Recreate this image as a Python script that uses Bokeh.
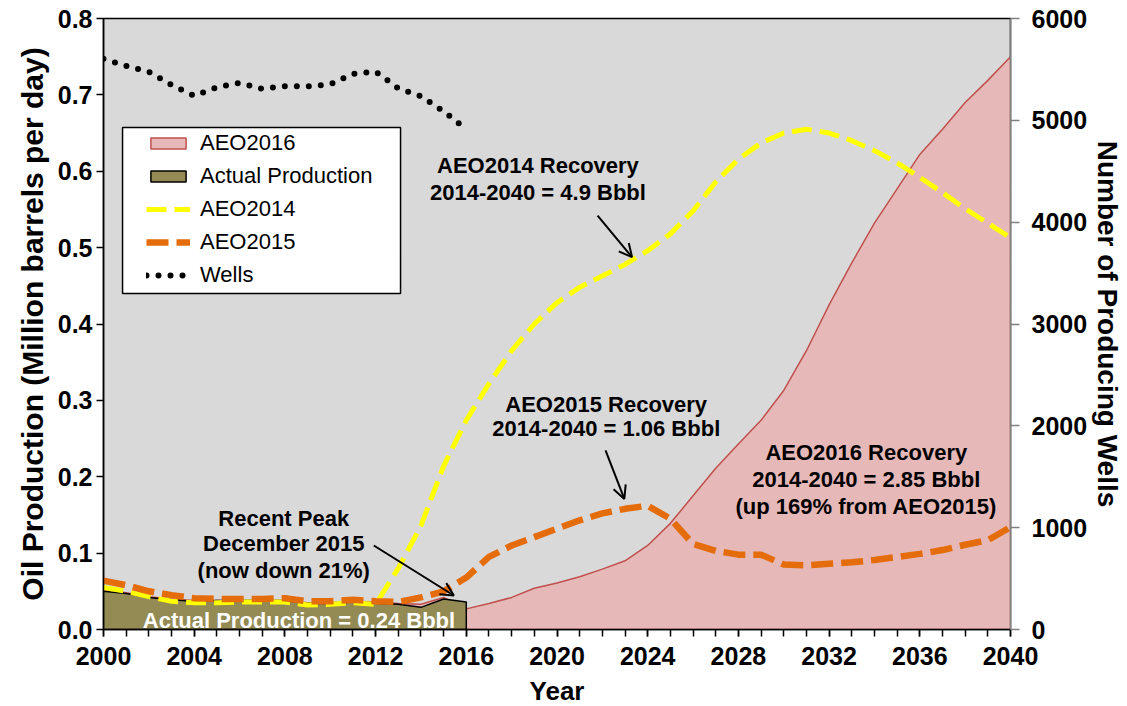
import numpy as np
from bokeh.plotting import figure
from bokeh.models import (Range1d, LinearAxis, FixedTicker, NumeralTickFormatter, Legend,
                          LegendItem, Label, Arrow, OpenHead, BoxAnnotation)
from bokeh.embed import file_html
from bokeh.resources import INLINE

# ---------------- data ----------------
years = list(range(2000, 2041))
actual_years = list(range(2000, 2017))
actual_production = [0.050, 0.047, 0.042, 0.039, 0.037, 0.038, 0.038, 0.038, 0.038,
                     0.034, 0.034, 0.036, 0.0345, 0.033, 0.029, 0.040, 0.036]
aeo2016 = [0.052, 0.048, 0.043, 0.040, 0.038, 0.038, 0.038, 0.038, 0.038, 0.035, 0.035,
           0.037, 0.036, 0.034, 0.033, 0.042, 0.027, 0.034, 0.042, 0.054, 0.061, 0.069,
           0.079, 0.090, 0.110, 0.139, 0.175, 0.211, 0.243, 0.274, 0.313, 0.365, 0.425,
           0.480, 0.532, 0.577, 0.622, 0.655, 0.690, 0.719, 0.750]
aeo2014 = [0.055, 0.050, 0.043, 0.037, 0.035, 0.035, 0.036, 0.036, 0.036, 0.032, 0.033,
           0.035, 0.033, 0.080, 0.136, 0.214, 0.274, 0.322, 0.365, 0.400, 0.428, 0.448,
           0.463, 0.478, 0.496, 0.518, 0.548, 0.586, 0.616, 0.637, 0.650, 0.655, 0.650,
           0.640, 0.627, 0.611, 0.592, 0.572, 0.551, 0.532, 0.513]
aeo2015 = [0.064, 0.058, 0.050, 0.045, 0.041, 0.040, 0.040, 0.040, 0.041, 0.037, 0.037,
           0.039, 0.037, 0.036, 0.042, 0.050, 0.068, 0.095, 0.110, 0.121, 0.132, 0.143,
           0.152, 0.158, 0.162, 0.145, 0.112, 0.103, 0.098, 0.098, 0.085, 0.084, 0.086,
           0.088, 0.091, 0.095, 0.099, 0.104, 0.111, 0.117, 0.134]
wells_years = list(range(2000, 2017))
wells = [5604, 5535, 5477, 5349, 5241, 5324, 5368, 5310, 5334, 5334, 5354, 5457, 5479,
         5314, 5236, 5088, 4912]

x_tick_labels = [2000, 2004, 2008, 2012, 2016, 2020, 2024, 2028, 2032, 2036, 2040]
y_ticks = [0.0, 0.1, 0.2, 0.3, 0.4, 0.5, 0.6, 0.7, 0.8]
wells_ticks = [0, 1000, 2000, 3000, 4000, 5000, 6000]

FONT = "Liberation Sans"

# ---------------- figure ----------------
p = figure(frame_width=907, frame_height=611,
           x_range=Range1d(2000, 2040), y_range=Range1d(0, 0.8),
           output_backend="svg", toolbar_location=None,
           background_fill_color="#D9D9D9", border_fill_color="white",
           min_border_left=103, min_border_top=18, min_border_right=5, min_border_bottom=40,
           outline_line_color="black", outline_line_width=1.5)
p.xgrid.visible = False
p.ygrid.visible = False
p.extra_y_ranges = {"wells": Range1d(0, 6000)}

n = len(years)
r16 = p.patch(np.concatenate([years, years[::-1]]),
              np.concatenate([aeo2016, np.zeros(n)]),
              fill_color="#E6B9B8", line_color="#C0504D", line_width=1.5)
na = len(actual_years)
ra = p.patch(np.concatenate([actual_years, actual_years[::-1]]),
             np.concatenate([actual_production, np.zeros(na)]),
             fill_color="#948A54", line_color="black", line_width=1.5)
r14 = p.line(years, aeo2014, line_color="#FFFF00", line_width=5, line_dash="20 8")
r15 = p.line(years, aeo2015, line_color="#E46C0A", line_width=6.5, line_dash="22 8")
rw = p.line(wells_years, wells, y_range_name="wells", line_color="black",
            line_width=6, line_dash="0 12", line_cap="round")

# ---------------- axes ----------------
def style_axis(ax, size="25px"):
    ax.major_label_text_font = FONT
    ax.major_label_text_font_size = size
    ax.major_label_text_font_style = "bold"
    ax.major_label_text_color = "black"
    ax.axis_label_text_font = FONT
    ax.axis_label_text_font_style = "bold"
    ax.axis_label_text_color = "black"
    ax.major_tick_in = 0
    ax.minor_tick_in = 0

xa = p.xaxis[0]
xa.ticker = FixedTicker(ticks=x_tick_labels, minor_ticks=years)
style_axis(xa)
xa.axis_label = "Year"
xa.axis_label_text_font_size = "26px"
xa.axis_label_standoff = 8
xa.major_label_standoff = 10
xa.major_tick_out = 7
xa.minor_tick_out = 7
xa.axis_line_color = "black"
xa.axis_line_width = 1.5
xa.major_tick_line_color = "black"
xa.minor_tick_line_color = "black"
xa.major_tick_line_width = 1.5
xa.minor_tick_line_width = 1.5

ya = p.yaxis[0]
ya.ticker = FixedTicker(ticks=y_ticks)
ya.formatter = NumeralTickFormatter(format="0.0")
style_axis(ya)
ya.axis_label = "Oil Production (Million barrels per day)"
ya.axis_label_text_font_size = "30px"
ya.axis_label_standoff = 6
ya.major_label_standoff = 4
ya.major_tick_out = 7
ya.minor_tick_line_color = None
ya.axis_line_color = "black"
ya.axis_line_width = 1.5
ya.major_tick_line_color = "black"
ya.major_tick_line_width = 1.5

wa = LinearAxis(y_range_name="wells", ticker=FixedTicker(ticks=wells_ticks),
                formatter=NumeralTickFormatter(format="0"),
                axis_label="Number of Producing Wells")
style_axis(wa)
wa.axis_label_text_font_size = "28px"
wa.axis_label_standoff = 2
wa.major_label_standoff = 12
wa.major_tick_out = 9
wa.minor_tick_line_color = None
wa.axis_line_color = "#7F7F7F"
wa.axis_line_width = 1.5
wa.major_tick_line_color = "#7F7F7F"
wa.major_tick_line_width = 1.5
p.add_layout(wa, "right")

# ---------------- legend ----------------
legend_box = BoxAnnotation(left=2000.84, right=2013.10, top=0.6573, bottom=0.4399,
                           fill_color="white", fill_alpha=1.0,
                           line_color="black", line_width=1.5, line_alpha=1.0)
p.add_layout(legend_box)

legend = Legend(items=[LegendItem(label="AEO2016", renderers=[r16]),
                       LegendItem(label="Actual Production", renderers=[ra]),
                       LegendItem(label="AEO2014", renderers=[r14]),
                       LegendItem(label="AEO2015", renderers=[r15]),
                       LegendItem(label="Wells", renderers=[rw])],
                location=(43, 341), orientation="vertical",
                background_fill_alpha=0, border_line_alpha=0, padding=0, margin=0,
                spacing=7, glyph_width=44, glyph_height=14, label_height=14,
                label_standoff=10, label_text_font=FONT, label_text_font_size="22px",
                label_text_color="black")
p.add_layout(legend, "center")

# ---------------- annotations ----------------
def add_text(x, y, text, color="black"):
    p.add_layout(Label(x=x, y=y, text=text, text_align="center",
                       text_baseline="middle", text_font=FONT,
                       text_font_size="22px", text_font_style="bold",
                       text_color=color))

add_text(2019.16, 0.6075, "AEO2014 Recovery")
add_text(2019.16, 0.5726, "2014-2040 = 4.9 Bbbl")
add_text(2022.17, 0.2949, "AEO2015 Recovery")
add_text(2022.17, 0.2628, "2014-2040 = 1.06 Bbbl")
add_text(2033.64, 0.2311, "AEO2016 Recovery")
add_text(2033.64, 0.1961, "2014-2040 = 2.85 Bbbl")
add_text(2033.64, 0.1613, "(up 169% from AEO2015)")
add_text(2007.95, 0.1449, "Recent Peak")
add_text(2007.95, 0.1122, "December 2015")
add_text(2007.95, 0.0773, "(now down 21%)")
add_text(2008.62, 0.0112, "Actual Production = 0.24 Bbbl", color="white")

def add_arrow(x0, y0, x1, y1):
    p.add_layout(Arrow(end=OpenHead(size=13, line_width=2, line_color="black"),
                       x_start=x0, y_start=y0, x_end=x1, y_end=y1,
                       line_width=2, line_color="black"))

add_arrow(2021.79, 0.542, 2023.31, 0.4875)
add_arrow(2022.14, 0.2344, 2022.97, 0.171)
add_arrow(2011.92, 0.110, 2015.45, 0.0445)

open("out.html", "w").write(file_html(p, INLINE))
